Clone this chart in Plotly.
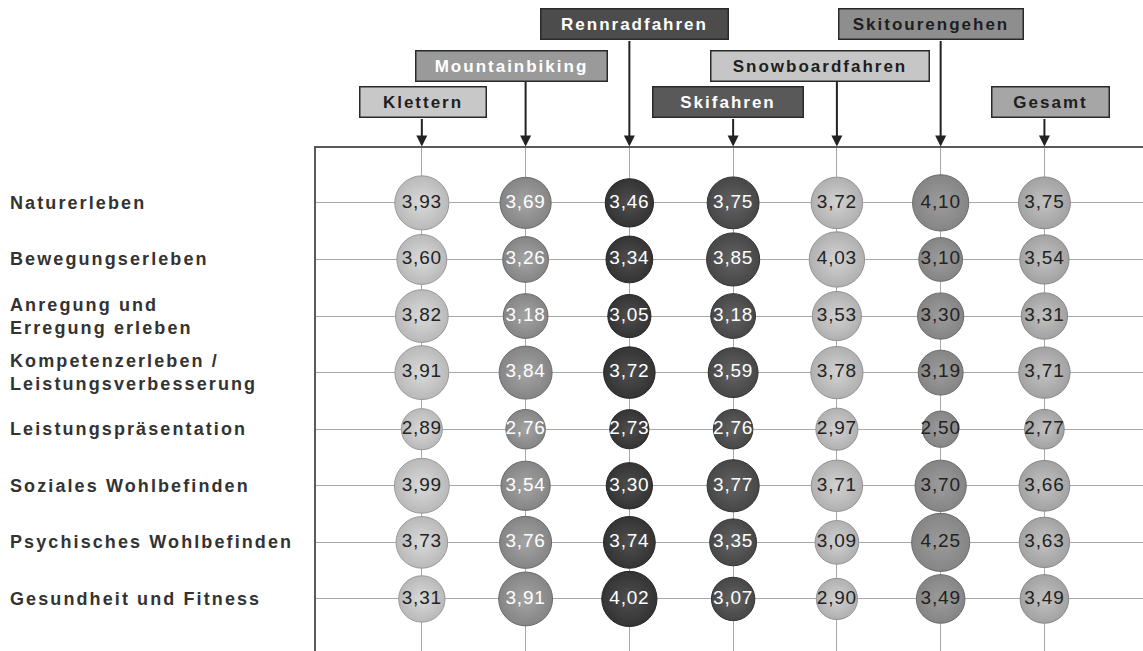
import plotly.graph_objects as go

# Sportarten (Spalten) und Motivdimensionen (Zeilen)
sports = ["Klettern", "Mountainbiking", "Rennradfahren", "Skifahren",
          "Snowboardfahren", "Skitourengehen", "Gesamt"]
motives = ["Naturerleben", "Bewegungserleben", "Anregung und<br>Erregung erleben",
           "Kompetenzerleben /<br>Leistungsverbesserung", "Leistungspräsentation",
           "Soziales Wohlbefinden", "Psychisches Wohlbefinden", "Gesundheit und Fitness"]

klettern = [3.93, 3.60, 3.82, 3.91, 2.89, 3.99, 3.73, 3.31]
mountainbiking = [3.69, 3.26, 3.18, 3.84, 2.76, 3.54, 3.76, 3.91]
rennradfahren = [3.46, 3.34, 3.05, 3.72, 2.73, 3.30, 3.74, 4.02]
skifahren = [3.75, 3.85, 3.18, 3.59, 2.76, 3.77, 3.35, 3.07]
snowboardfahren = [3.72, 4.03, 3.53, 3.78, 2.97, 3.71, 3.09, 2.90]
skitourengehen = [4.10, 3.10, 3.30, 3.19, 2.50, 3.70, 4.25, 3.49]
gesamt = [3.75, 3.54, 3.31, 3.71, 2.77, 3.66, 3.63, 3.49]

series = [klettern, mountainbiking, rennradfahren, skifahren,
          snowboardfahren, skitourengehen, gesamt]

# Farbgebung je Sportart: (Kugel, Glanzpunkt, Rand, Schrift)
bubble_style = [
    ("#b9b9b9", "#dadada", "#9a9a9a", "#222222"),
    ("#858585", "#a4a4a4", "#6a6a6a", "#ffffff"),
    ("#343434", "#4e4e4e", "#262626", "#ffffff"),
    ("#474747", "#626262", "#333333", "#ffffff"),
    ("#b0b0b0", "#d2d2d2", "#949494", "#222222"),
    ("#858585", "#9c9c9c", "#6c6c6c", "#222222"),
    ("#a2a2a2", "#c2c2c2", "#888888", "#222222"),
]

# Kopfboxen: (Füllung, Schrift, Ebene, Breite, Versatz in px)
header_style = [
    ("#c8c8c8", "#1e1e1e", 2, 121, 1),
    ("#9a9a9a", "#ffffff", 1, 186, -14),
    ("#4c4c4c", "#ffffff", 0, 182, 5),
    ("#595959", "#ffffff", 2, 145, -5),
    ("#c6c6c6", "#1e1e1e", 1, 213, -17),
    ("#8e8e8e", "#1e1e1e", 0, 179, -10),
    ("#a6a6a6", "#1e1e1e", 2, 112, 6),
]
tier_y = [1.247, 1.164, 1.091]      # paper-y der drei Boxreihen
arrow_len = [107, 66, 29]           # Pfeillänge je Ebene in px

FONT = "Liberation Sans, Arial, sans-serif"


def spaced(txt, px):
    """Text mit erweitertem Zeichenabstand."""
    return f'<span style="letter-spacing:{px}px">{txt}</span>'


fig = go.Figure()

for i, (vals, (col, glow, edge, txt)) in enumerate(zip(series, bubble_style)):
    fig.add_trace(go.Scatter(
        x=[i] * len(vals),
        y=list(range(len(vals))),
        mode="markers+text",
        text=[spaced(f"{v:.2f}".replace(".", ","), 0.8) for v in vals],
        textposition="middle center",
        textfont=dict(family=FONT, size=19, color=txt),
        marker=dict(
            size=[12.5 * v + 5 for v in vals],
            color=col,
            gradient=dict(type="radial", color=glow),
            line=dict(color=edge, width=1),
            opacity=1,
        ),
        hoverinfo="skip",
        showlegend=False,
        cliponaxis=False,
    ))

annotations = []

# Zeilenbeschriftungen links
for j, m in enumerate(motives):
    lines = "<br>".join(spaced(f"<b>{p}</b>", 2.1) for p in m.split("<br>"))
    annotations.append(dict(
        text=lines, x=-0.3725, xref="paper", y=j, yref="y",
        xanchor="left", yanchor="middle", align="left", showarrow=False,
        font=dict(family=FONT, size=18, color="#333333"),
    ))

# Kopfboxen mit Pfeilen
for i, (name, (fill, fcol, tier, w, dx)) in enumerate(zip(sports, header_style)):
    annotations.append(dict(
        text=spaced(f"<b>{name}</b>", 2), x=i, xref="x", y=tier_y[tier], yref="paper",
        xshift=dx, xanchor="center", yanchor="middle", showarrow=False,
        width=w, height=25, bgcolor=fill, bordercolor="#2a2a2a", borderwidth=1.5,
        borderpad=2, font=dict(family=FONT, size=17, color=fcol),
    ))
    annotations.append(dict(
        text="", x=i, xref="x", y=1.003, yref="paper",
        ax=0, ay=-arrow_len[tier], axref="pixel", ayref="pixel",
        showarrow=True, arrowhead=2, arrowsize=1.1, arrowwidth=2,
        arrowcolor="#222222",
    ))

fig.update_layout(
    width=1143, height=651,
    margin=dict(l=316, r=0, t=148, b=0),
    paper_bgcolor="white", plot_bgcolor="white",
    annotations=annotations,
    xaxis=dict(
        range=[-1.02, 6.95], tickvals=list(range(len(sports))),
        showticklabels=False, ticks="", showgrid=True, gridcolor="#a8a8a8",
        gridwidth=1, zeroline=False, showline=True, side="top",
        linecolor="#5a5a5a", linewidth=2,
    ),
    yaxis=dict(
        range=[7.92, -0.97], tickvals=list(range(len(motives))),
        showticklabels=False, ticks="", showgrid=True, gridcolor="#a8a8a8",
        gridwidth=1, zeroline=False, showline=True,
        linecolor="#5a5a5a", linewidth=2,
    ),
)

fig.write_html("out.html")
